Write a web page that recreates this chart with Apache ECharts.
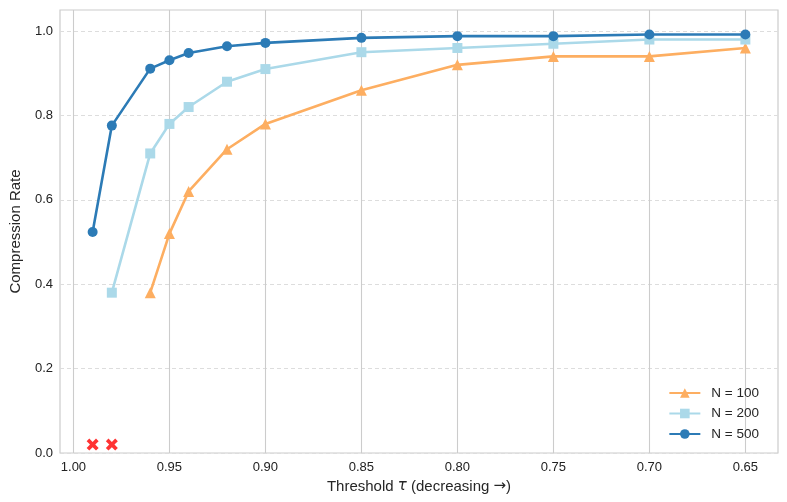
<!DOCTYPE html>
<html>
<head>
<meta charset="utf-8">
<script src="https://cdn.jsdelivr.net/npm/echarts@6/dist/echarts.min.js"></script>
<style>
    html, body { margin: 0; padding: 0; background: #fff; }
    #rate_chart { width: 787px; height: 502px; }
</style>
</head>
<body>
<div id="rate_chart"></div>
<script>

// Data
var thresholds = [0.99, 0.98, 0.96, 0.95, 0.94, 0.92, 0.90, 0.85, 0.80, 0.75, 0.70, 0.65];
var rateN500 = [0.524, 0.776, 0.911, 0.931, 0.948, 0.964, 0.972, 0.984, 0.988, 0.988, 0.992, 0.992];
var rateN200 = [null, 0.38, 0.71, 0.78, 0.82, 0.88, 0.91, 0.95, 0.96, 0.97, 0.98, 0.98];
var rateN100 = [null, null, 0.38, 0.52, 0.62, 0.72, 0.78, 0.86, 0.92, 0.94, 0.94, 0.96];
var failX = [0.99, 0.98];
var failY = [0.02, 0.02];
var xTicks = [1.00, 0.95, 0.90, 0.85, 0.80, 0.75, 0.70, 0.65];
var yTicks = [0, 0.2, 0.4, 0.6, 0.8, 1.0];

var pairs = function (xs, ys) {
    var out = [];
    for (var i = 0; i < xs.length; i++) {
        if (ys[i] !== null) out.push([xs[i], ys[i]]);
    }
    return out;
};

var chart_element = document.getElementById('rate_chart');
var chart = echarts.init(chart_element);

var fontFamily = '"Liberation Sans", Arial, sans-serif';
var crossPath = 'path://M2.2,0 L5,2.8 L7.8,0 L10,2.2 L7.2,5 L10,7.8 L7.8,10 L5,7.2 L2.2,10 L0,7.8 L2.8,5 L0,2.2 Z';

chart.setOption({
    animation: false,

    textStyle: {
        fontFamily: fontFamily
    },

    grid: {
        left: 57,
        right: 9,
        top: 10,
        bottom: 49,
        show: true,
        borderColor: '#cccccc',
        borderWidth: 1.2,
        backgroundColor: '#fff'
    },

    legend: {
        right: 23,
        top: 381,
        orient: 'vertical',
        itemWidth: 31,
        itemHeight: 12,
        itemGap: 6.5,
        textStyle: {
            fontSize: 13.5,
            color: '#262626',
            fontFamily: fontFamily,
            padding: [0, 0, 0, 6]
        },
        data: ['N = 100', 'N = 200', 'N = 500']
    },

    // Horizontal axis
    xAxis: {
        type: 'value',
        inverse: true,
        min: 0.633,
        max: 1.007,
        name: '{a|Threshold }{t|τ}{a| (decreasing }{r|→}{a|)}',
        nameLocation: 'middle',
        nameGap: 26,
        nameTextStyle: {
            rich: {
                a: { fontSize: 15, color: '#262626', fontFamily: fontFamily },
                t: { fontSize: 15, color: '#262626', fontStyle: 'italic', fontFamily: '"DejaVu Sans", sans-serif' },
                r: { fontSize: 15, color: '#262626', fontFamily: '"DejaVu Sans", sans-serif' }
            }
        },
        axisLine: { show: false },
        axisTick: { show: false, customValues: xTicks },
        axisLabel: {
            customValues: xTicks,
            color: '#222',
            fontSize: 13,
            margin: 8,
            formatter: function (v) { return v.toFixed(2); }
        },
        splitLine: {
            show: true,
            lineStyle: { color: '#cccccc', width: 1.1, type: 'solid' }
        }
    },

    // Vertical axis
    yAxis: {
        type: 'value',
        min: 0,
        max: 1.05,
        name: 'Compression Rate',
        nameLocation: 'middle',
        nameGap: 37,
        nameTextStyle: { fontSize: 15, color: '#262626' },
        axisLine: { show: false },
        axisTick: { show: false, customValues: yTicks },
        axisLabel: {
            customValues: yTicks,
            color: '#222',
            fontSize: 13,
            margin: 7,
            formatter: function (v) { return v.toFixed(1); }
        },
        splitLine: {
            show: true,
            lineStyle: { color: '#dddddd', width: 1, type: [4, 3] }
        }
    },

    // Series
    series: [
        {
            name: 'N = 100',
            type: 'line',
            data: pairs(thresholds, rateN100),
            symbol: 'triangle',
            symbolSize: 11,
            color: '#fdae61',
            lineStyle: { width: 2.6, color: '#fdae61' },
            itemStyle: { color: '#fdae61' },
            z: 3
        },
        {
            name: 'N = 200',
            type: 'line',
            data: pairs(thresholds, rateN200),
            symbol: 'rect',
            symbolSize: 10,
            color: '#abd9e9',
            lineStyle: { width: 2.6, color: '#abd9e9' },
            itemStyle: { color: '#abd9e9' },
            z: 4
        },
        {
            name: 'N = 500',
            type: 'line',
            data: pairs(thresholds, rateN500),
            symbol: 'circle',
            symbolSize: 10,
            color: '#2c7bb6',
            lineStyle: { width: 2.6, color: '#2c7bb6' },
            itemStyle: { color: '#2c7bb6' },
            z: 5
        },
        {
            name: 'fail',
            type: 'scatter',
            data: pairs(failX, failY),
            symbol: crossPath,
            symbolSize: 12,
            itemStyle: { color: '#ff0000' },
            z: 6
        }
    ]
});

window.addEventListener('resize', function () {
    chart.resize();
});
</script>
</body>
</html>
